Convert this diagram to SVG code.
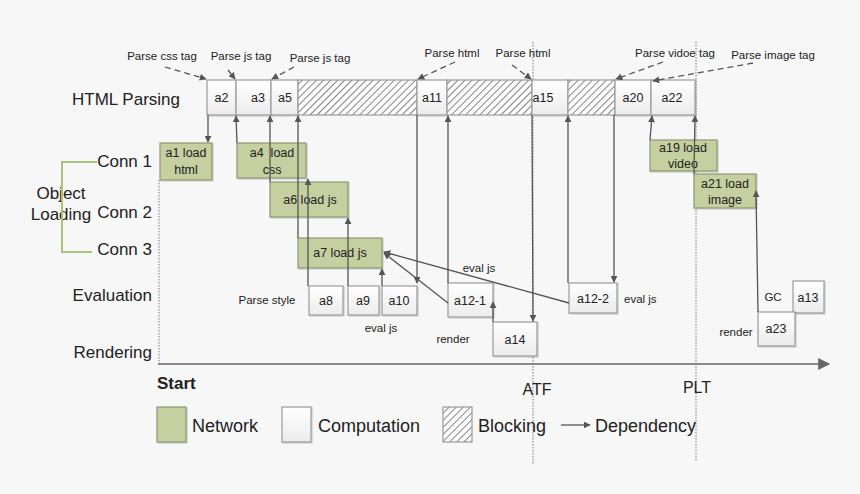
<svg xmlns="http://www.w3.org/2000/svg" width="860" height="494" viewBox="0 0 860 494">
<style>
text{font-family:"Liberation Sans",Arial,sans-serif;fill:#222}
.row{font-size:17px}
.lg{font-size:18px}
.sm{font-size:11.5px}
.bx{font-size:12.5px;text-anchor:middle}
.w{fill:url(#wg);stroke:#9a9a9a;stroke-width:1.2;filter:url(#sh)}
.g{fill:#c5cf9f;stroke:#8d9872;stroke-width:1.2;filter:url(#sh)}
.h{fill:url(#hatch);stroke:#9a9a9a;stroke-width:1.2}
.dep{stroke:#555;stroke-width:1.3;fill:none;marker-end:url(#ar)}
.dash{stroke:#555;stroke-width:1.3;fill:none;stroke-dasharray:6 4;marker-end:url(#ar)}
.dot{stroke:#777;stroke-width:1;stroke-dasharray:1.5 1.5;fill:none}
</style>
<defs>
<marker id="ar" viewBox="0 0 10 10" refX="9" refY="5" markerWidth="7" markerHeight="7" markerUnits="userSpaceOnUse" orient="auto">
<path d="M0,0 L10,5 L0,10 z" fill="#555"/>
</marker>
<marker id="ax" viewBox="0 0 10 10" refX="9" refY="5" markerWidth="14" markerHeight="12" markerUnits="userSpaceOnUse" orient="auto">
<path d="M0,0 L10,5 L0,10 z" fill="#666"/>
</marker>
<pattern id="hatch" width="5" height="5" patternUnits="userSpaceOnUse" patternTransform="rotate(45)">
<rect width="5" height="5" fill="#fcfcfc"/>
<line x1="0" y1="0" x2="0" y2="5" stroke="#222" stroke-width="1.1"/>
</pattern>
<linearGradient id="wg" x1="0" y1="0" x2="0" y2="1">
<stop offset="0" stop-color="#ffffff"/>
<stop offset="1" stop-color="#ececec"/>
</linearGradient>
<filter id="sh" x="-10%" y="-10%" width="130%" height="130%">
<feDropShadow dx="1" dy="1" stdDeviation="0.6" flood-color="#000" flood-opacity="0.18"/>
</filter>
</defs>
<rect width="860" height="494" fill="#f7f7f7"/>

<g id="labels">
<text class="row" x="72" y="105">HTML Parsing</text>
<text class="row" x="152" y="167" text-anchor="end">Conn 1</text>
<text class="row" x="152" y="218" text-anchor="end">Conn 2</text>
<text class="row" x="152" y="255" text-anchor="end">Conn 3</text>
<text class="row" x="61" y="199" text-anchor="middle">Object</text>
<text class="row" x="61" y="220" text-anchor="middle">Loading</text>
<text class="row" x="152" y="301" text-anchor="end">Evaluation</text>
<text class="row" x="152" y="358" text-anchor="end">Rendering</text>
<path d="M97,162 H62 V252 H92" stroke="#a9c27a" stroke-width="2" fill="none"/>
</g>

<g id="timeline">
<line class="dot" x1="533" y1="42" x2="533" y2="464"/>
<line class="dot" x1="696" y1="42" x2="696" y2="462"/>
<line class="dot" x1="159" y1="180" x2="159" y2="364"/>
<line x1="158" y1="364" x2="829" y2="364" stroke="#666" stroke-width="1.5" marker-end="url(#ax)"/>
<text class="row" x="157" y="389" font-weight="bold">Start</text>
<text x="537" y="395" font-size="16" text-anchor="middle">ATF</text>
<text x="697" y="393" font-size="16" text-anchor="middle">PLT</text>
</g>

<g id="html-parsing">
<g id="a2"><rect class="w" x="207" y="80" width="29" height="35"/><text class="bx" x="221.5" y="102">a2</text></g>
<g id="a3"><rect class="w" x="236" y="80" width="35" height="35"/><text class="bx" x="258" y="102">a3</text></g>
<g id="a5"><rect class="w" x="271" y="80" width="27" height="35"/><text class="bx" x="285" y="102">a5</text></g>
<g id="block1"><rect class="h" x="298" y="80" width="119" height="35"/></g>
<g id="a11"><rect class="w" x="417" y="80" width="30" height="35"/><text class="bx" x="432" y="102">a11</text></g>
<g id="block2"><rect class="h" x="447" y="80" width="85" height="35"/></g>
<g id="a15"><rect class="w" x="532" y="80" width="36" height="35"/><text class="bx" x="543" y="102">a15</text></g>
<g id="block3"><rect class="h" x="568" y="80" width="47" height="35"/></g>
<g id="a20"><rect class="w" x="615" y="80" width="36" height="35"/><text class="bx" x="633" y="102">a20</text></g>
<g id="a22"><rect class="w" x="651" y="80" width="44" height="35"/><text class="bx" x="672" y="102">a22</text></g>
</g>

<g id="a1"><rect class="g" x="160" y="143" width="52" height="37"/><text class="bx" x="186" y="157">a1 load</text><text class="bx" x="186" y="174">html</text></g>
<g id="a4"><rect class="g" x="237" y="143" width="69" height="35"/><text class="bx" x="272" y="157" xml:space="preserve">a4  load</text><text class="bx" x="272" y="174">css</text></g>
<g id="a6"><rect class="g" x="270" y="182" width="78" height="35"/><text class="bx" x="310" y="204">a6 load js</text></g>
<g id="a7"><rect class="g" x="298" y="238" width="84" height="30"/><text class="bx" x="340" y="257">a7 load js</text></g>
<g id="a19"><rect class="g" x="650" y="140" width="67" height="31"/><text class="bx" x="683" y="152">a19 load</text><text class="bx" x="683" y="168">video</text></g>
<g id="a21"><rect class="g" x="694" y="174" width="62" height="34"/><text class="bx" x="725" y="188">a21 load</text><text class="bx" x="725" y="204">image</text></g>

<g id="a8"><rect class="w" x="309" y="286" width="34" height="29"/><text class="bx" x="326" y="305">a8</text></g>
<g id="a9"><rect class="w" x="348" y="286" width="31" height="29"/><text class="bx" x="363" y="305">a9</text></g>
<g id="a10"><rect class="w" x="382" y="286" width="35" height="29"/><text class="bx" x="399" y="305">a10</text></g>
<g id="a12-1"><rect class="w" x="448" y="283" width="45" height="34"/><text class="bx" x="470" y="305">a12-1</text></g>
<g id="a14"><rect class="w" x="493" y="322" width="44" height="34"/><text class="bx" x="515" y="344">a14</text></g>
<g id="a12-2"><rect class="w" x="569" y="283" width="48" height="30"/><text class="bx" x="593" y="303">a12-2</text></g>
<g id="a13"><rect class="w" x="793" y="281" width="31" height="32"/><text class="bx" x="808" y="302">a13</text></g>
<g id="a23"><rect class="w" x="758" y="312" width="37" height="34"/><text class="bx" x="776" y="333">a23</text></g>

<g id="notes">
<text class="sm" x="162" y="60" text-anchor="middle">Parse css tag</text>
<text class="sm" x="241" y="60" text-anchor="middle">Parse js tag</text>
<text class="sm" x="320" y="62" text-anchor="middle">Parse js tag</text>
<text class="sm" x="452" y="57" text-anchor="middle">Parse html</text>
<text class="sm" x="523" y="57" text-anchor="middle">Parse html</text>
<text class="sm" x="675" y="57" text-anchor="middle">Parse vidoe tag</text>
<text class="sm" x="773" y="59" text-anchor="middle">Parse image tag</text>
<text class="sm" x="267" y="304" text-anchor="middle">Parse style</text>
<text class="sm" x="381" y="332" text-anchor="middle">eval js</text>
<text class="sm" x="453" y="343" text-anchor="middle">render</text>
<text class="sm" x="479" y="272" text-anchor="middle">eval js</text>
<text class="sm" x="624" y="303">eval js</text>
<text class="sm" x="773" y="301" text-anchor="middle">GC</text>
<text class="sm" x="736" y="336" text-anchor="middle">render</text>
</g>

<g id="connectors">
<line class="dash" x1="165" y1="67" x2="206" y2="79"/>
<line class="dash" x1="228" y1="70" x2="235" y2="79"/>
<line class="dash" x1="294" y1="67" x2="272" y2="79"/>
<line class="dash" x1="455" y1="62" x2="418" y2="79"/>
<line class="dash" x1="512" y1="65" x2="531" y2="79"/>
<line class="dash" x1="663" y1="62" x2="616" y2="79"/>
<line class="dash" x1="753" y1="63" x2="653" y2="81"/>
<line class="dep" x1="208" y1="115" x2="208" y2="142"/>
<line class="dep" x1="237" y1="143" x2="236" y2="116"/>
<line class="dep" x1="270" y1="182" x2="270" y2="116"/>
<line class="dep" x1="298" y1="238" x2="298" y2="116"/>
<line class="dep" x1="308" y1="286" x2="308" y2="179"/>
<line class="dep" x1="348" y1="286" x2="348" y2="218"/>
<line class="dep" x1="382" y1="286" x2="382" y2="269"/>
<line class="dep" x1="417" y1="115" x2="417" y2="283"/>
<line class="dep" x1="448" y1="283" x2="448" y2="116"/>
<line class="dep" x1="532" y1="115" x2="533" y2="321"/>
<line class="dep" x1="568" y1="283" x2="568" y2="116"/>
<line class="dep" x1="614" y1="115" x2="614" y2="282"/>
<line class="dep" x1="650" y1="140" x2="652" y2="116"/>
<line class="dep" x1="694" y1="174" x2="695" y2="116"/>
<line class="dep" x1="758" y1="312" x2="756" y2="191"/>
<line class="dep" x1="493" y1="322" x2="493" y2="302"/>
<line class="dep" x1="448" y1="303" x2="384" y2="253"/>
<line class="dep" x1="569" y1="303" x2="384" y2="252"/>
</g>

<g id="legend">
<rect class="g" x="157" y="407" width="29" height="35"/>
<text class="lg" x="192" y="432">Network</text>
<rect class="w" x="282" y="407" width="29" height="35"/>
<text class="lg" x="318" y="432">Computation</text>
<rect class="h" x="443" y="407" width="29" height="35"/>
<text class="lg" x="478" y="432">Blocking</text>
<line class="dep" x1="561" y1="425" x2="590" y2="425"/>
<text class="lg" x="595" y="432">Dependency</text>
</g>
</svg>
